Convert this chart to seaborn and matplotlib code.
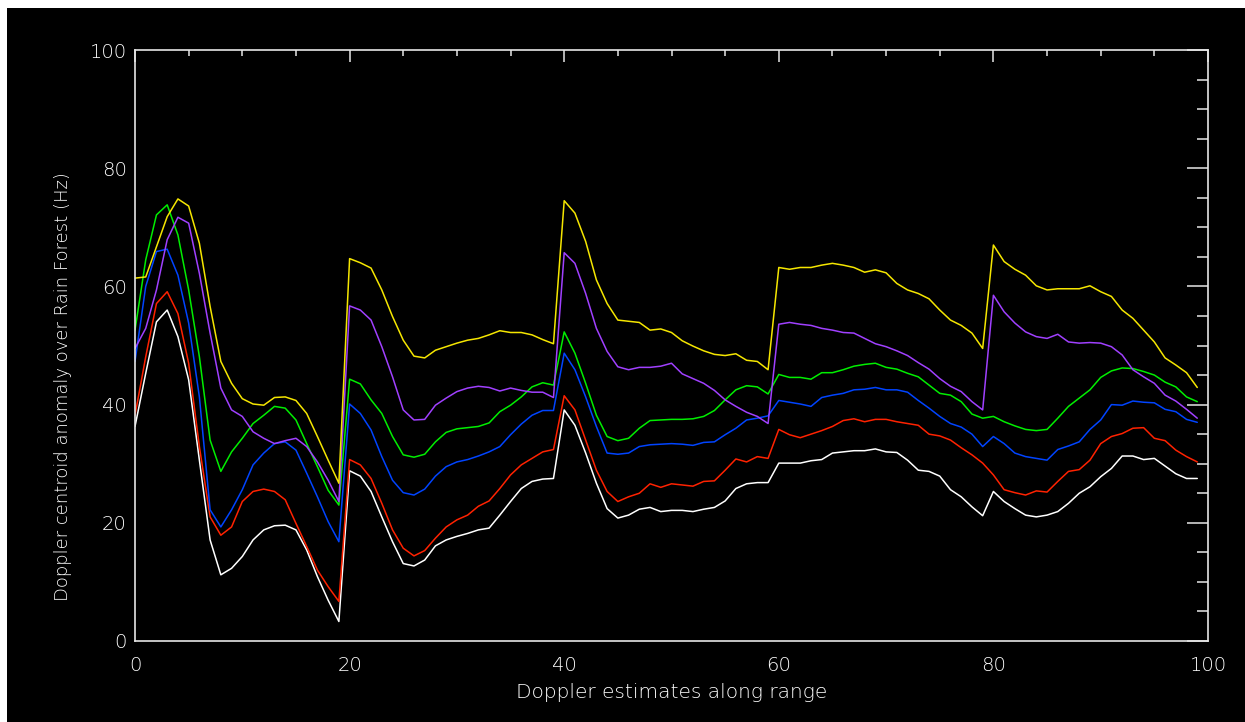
# Doppler centroid anomaly over Rain Forest - six range profiles
import numpy as np
import pandas as pd
import matplotlib
matplotlib.use('Agg')
import matplotlib.pyplot as plt
import seaborn as sns
from matplotlib.patches import Rectangle
from matplotlib.ticker import MultipleLocator

# data (100 estimates per curve)
x_idx = list(range(100))

white = [36.3, 45.3, 54.0, 56.0, 51.5, 44.2, 30.6, 17.1, 11.2, 12.3, 14.3, 17.1, 18.8, 19.5, 19.6, 18.8, 15.4, 10.9, 6.9, 3.3,
         28.8, 27.9, 25.3, 21.0, 16.8, 13.1, 12.7, 13.7, 16.1, 17.1, 17.7, 18.2, 18.8, 19.1, 21.3, 23.6, 25.8, 27.0, 27.4, 27.5,
         39.1, 36.5, 31.8, 26.7, 22.4, 20.8, 21.3, 22.3, 22.6, 21.9, 22.1, 22.1, 21.9, 22.3, 22.6, 23.7, 25.8, 26.6, 26.8, 26.8,
         30.1, 30.1, 30.1, 30.5, 30.7, 31.8, 32.0, 32.2, 32.2, 32.5, 32.0, 31.9, 30.6, 28.9, 28.7, 27.9, 25.6, 24.4, 22.7, 21.2,
         25.3, 23.6, 22.4, 21.3, 21.0, 21.3, 21.9, 23.3, 25.0, 26.1, 27.8, 29.2, 31.3, 31.3, 30.7, 30.9, 29.6, 28.3, 27.5, 27.5]

red = [38.2, 48.1, 57.1, 59.1, 55.4, 47.0, 32.9, 21.0, 17.9, 19.3, 23.6, 25.3, 25.7, 25.3, 23.9, 19.9, 16.0, 12.0, 9.2, 6.7,
       30.7, 29.8, 27.5, 23.3, 18.8, 15.7, 14.4, 15.3, 17.4, 19.3, 20.5, 21.3, 22.8, 23.7, 25.8, 28.1, 29.8, 30.9, 32.0, 32.4,
       41.5, 39.1, 34.0, 28.9, 25.3, 23.6, 24.4, 25.0, 26.6, 26.0, 26.6, 26.4, 26.2, 27.0, 27.1, 28.9, 30.8, 30.3, 31.2, 30.9,
       35.8, 34.9, 34.4, 35.0, 35.6, 36.3, 37.3, 37.6, 37.1, 37.5, 37.5, 37.1, 36.8, 36.5, 35.0, 34.7, 34.0, 32.7, 31.5, 30.1,
       28.1, 25.6, 25.1, 24.7, 25.4, 25.2, 27.0, 28.7, 29.0, 30.6, 33.4, 34.6, 35.1, 36.0, 36.1, 34.3, 33.9, 32.3, 31.2, 30.3]

blue = [47.3, 60.0, 65.9, 66.3, 61.9, 53.8, 41.3, 22.2, 19.3, 22.2, 25.6, 29.8, 31.8, 33.4, 33.7, 32.3, 28.4, 24.4, 20.2, 16.8,
        40.1, 38.5, 35.7, 31.2, 27.2, 25.1, 24.7, 25.7, 27.9, 29.5, 30.3, 30.7, 31.3, 32.0, 32.9, 34.9, 36.7, 38.2, 39.0, 39.0,
        48.7, 45.9, 41.3, 36.3, 31.8, 31.6, 31.8, 32.9, 33.2, 33.3, 33.4, 33.3, 33.1, 33.6, 33.7, 34.9, 36.0, 37.4, 37.7, 38.1,
        40.7, 40.4, 40.1, 39.7, 41.2, 41.6, 41.9, 42.5, 42.6, 42.9, 42.5, 42.5, 42.1, 40.7, 39.4, 38.0, 36.8, 36.2, 35.0, 32.9,
        34.6, 33.4, 31.8, 31.2, 30.9, 30.6, 32.4, 33.0, 33.7, 35.8, 37.4, 40.0, 39.9, 40.6, 40.4, 40.3, 39.2, 38.8, 37.5, 37.0]

green = [52.6, 64.5, 72.1, 73.8, 68.7, 59.4, 48.1, 34.0, 28.7, 32.0, 34.3, 36.8, 38.2, 39.7, 39.4, 37.4, 33.4, 29.5, 25.5, 23.0,
         44.3, 43.5, 40.8, 38.5, 34.6, 31.5, 31.1, 31.6, 33.7, 35.3, 35.9, 36.1, 36.3, 36.9, 38.8, 39.9, 41.3, 43.0, 43.7, 43.3,
         52.3, 48.7, 43.6, 38.2, 34.6, 33.9, 34.3, 36.0, 37.3, 37.4, 37.5, 37.5, 37.6, 38.0, 39.0, 40.8, 42.5, 43.2, 43.0, 41.8,
         45.1, 44.6, 44.6, 44.3, 45.4, 45.4, 45.9, 46.5, 46.8, 47.0, 46.3, 46.0, 45.3, 44.7, 43.3, 41.9, 41.6, 40.5, 38.4, 37.7,
         38.0, 37.1, 36.4, 35.8, 35.6, 35.8, 37.7, 39.7, 41.1, 42.5, 44.6, 45.7, 46.2, 46.1, 45.6, 45.0, 43.8, 43.0, 41.3, 40.5]

purple = [49.5, 52.9, 59.4, 67.9, 71.7, 70.7, 62.2, 52.1, 42.8, 39.1, 38.0, 35.4, 34.3, 33.4, 33.9, 34.3, 32.9, 30.3, 27.2, 23.6,
          56.7, 56.0, 54.3, 49.8, 44.7, 39.1, 37.4, 37.5, 39.9, 41.1, 42.2, 42.8, 43.1, 42.9, 42.3, 42.8, 42.4, 42.1, 42.1, 41.2,
          65.7, 63.9, 58.8, 52.9, 49.0, 46.4, 45.9, 46.3, 46.3, 46.5, 47.0, 45.2, 44.4, 43.6, 42.4, 40.8, 39.7, 38.7, 38.0, 36.8,
          53.6, 53.9, 53.6, 53.4, 52.9, 52.6, 52.2, 52.1, 51.2, 50.3, 49.8, 49.1, 48.3, 47.1, 46.0, 44.4, 43.1, 42.2, 40.5, 39.1,
          58.5, 55.7, 53.8, 52.3, 51.5, 51.2, 51.9, 50.6, 50.4, 50.5, 50.4, 49.8, 48.4, 45.9, 44.7, 43.6, 41.6, 40.6, 39.2, 37.7]

yellow = [61.4, 61.6, 66.7, 71.8, 74.8, 73.6, 67.3, 56.6, 47.3, 43.6, 41.0, 40.1, 39.9, 41.2, 41.3, 40.7, 38.5, 34.6, 30.6, 26.7,
          64.7, 64.0, 63.1, 59.4, 54.9, 50.9, 48.2, 47.9, 49.2, 49.8, 50.4, 50.9, 51.2, 51.8, 52.5, 52.2, 52.2, 51.8, 51.0, 50.3,
          74.5, 72.4, 67.6, 61.1, 57.1, 54.3, 54.1, 53.9, 52.6, 52.8, 52.2, 50.8, 49.9, 49.1, 48.5, 48.3, 48.6, 47.5, 47.3, 45.9,
          63.2, 62.9, 63.2, 63.2, 63.6, 63.9, 63.6, 63.2, 62.4, 62.8, 62.3, 60.5, 59.4, 58.8, 57.9, 56.0, 54.3, 53.4, 52.1, 49.5,
          67.0, 64.2, 62.9, 61.9, 60.1, 59.4, 59.6, 59.6, 59.6, 60.1, 59.1, 58.3, 56.0, 54.6, 52.6, 50.6, 47.9, 46.7, 45.4, 42.9]

series_names = ['white', 'red', 'blue', 'green', 'purple', 'yellow']
series_vals = [white, red, blue, green, purple, yellow]
line_colors = ['#ffffff', '#ff2200', '#0044ff', '#00ee00', '#a040ff', '#f5e600']

rows = []
for name, vals in zip(series_names, series_vals):
    for xi, v in zip(x_idx, vals):
        rows.append({'x': xi, 'value': v, 'series': name})
df = pd.DataFrame(rows)

sns.set_style('dark')
plt.rcParams['font.family'] = ['DejaVu Sans']
axis_col = '#e6e6e6'
text_col = '#ffffff'

fig = plt.figure(figsize=(12.45, 7.22), dpi=100, facecolor='white')
# black plotting window with thin white margin at top/left
fig.patches.append(Rectangle((7 / 1245, 0), 1 - 7 / 1245, (722 - 8) / 722,
                             transform=fig.transFigure, facecolor='black', edgecolor='none', zorder=-10))
ax = fig.add_axes([135 / 1245, 1 - 641 / 722, (1208 - 135) / 1245, (641 - 50) / 722])
ax.set_facecolor('black')

sns.lineplot(data=df, x='x', y='value', hue='series', palette=dict(zip(series_names, line_colors)),
             hue_order=series_names, estimator=None, linewidth=1.1, legend=False, ax=ax)

ax.set_xlim(0, 100)
ax.set_ylim(0, 100)
ax.grid(False)
ax.xaxis.set_major_locator(MultipleLocator(20))
ax.xaxis.set_minor_locator(MultipleLocator(5))
ax.yaxis.set_major_locator(MultipleLocator(20))
ax.yaxis.set_minor_locator(MultipleLocator(5))

for sp in ax.spines.values():
    sp.set_color(axis_col)
    sp.set_linewidth(1.2)

ax.tick_params(which='both', direction='in', top=True, right=True, colors=axis_col,
               labelcolor=text_col, width=1.1)
ax.tick_params(axis='x', which='major', length=8.6, pad=11, labelsize=14)
ax.tick_params(axis='x', which='minor', length=4.3)
ax.tick_params(axis='y', which='major', length=15, pad=6, labelsize=14)
ax.tick_params(axis='y', which='minor', length=8)
for lab in ax.get_xticklabels() + ax.get_yticklabels():
    lab.set_fontweight('light')

ax.set_xlabel('Doppler estimates along range', color=text_col, fontsize=14.5, fontweight='light')
ax.set_ylabel('Doppler centroid anomaly over Rain Forest (Hz)', color=text_col, fontsize=13, fontweight='light')
ax.xaxis.set_label_coords(0.5, -0.071)
ax.yaxis.set_label_coords(-0.0587, 0.43)

fig.savefig('out.png', dpi=100, facecolor=fig.get_facecolor())
